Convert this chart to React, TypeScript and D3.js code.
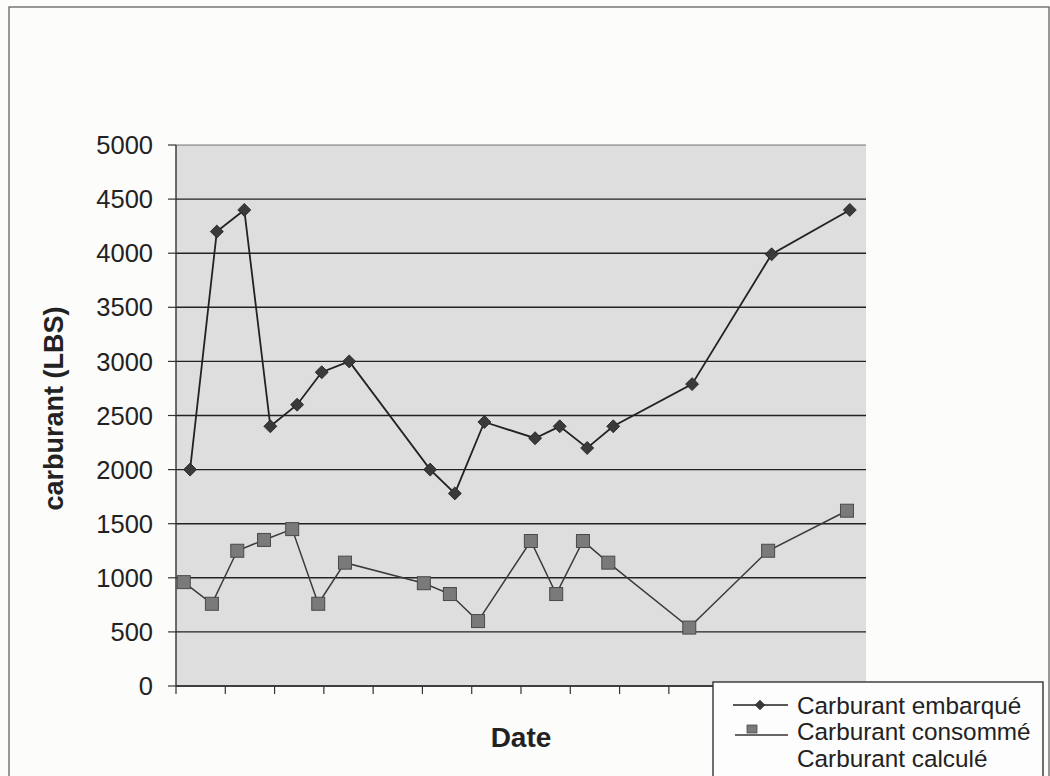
import React from "react";
import * as d3 from "d3";

// x values are days from the start of the axis (one tick every 7 days)
const embarqueDays = [2.0, 5.8, 9.7, 13.4, 17.2, 20.7, 24.6, 36.1, 39.6, 43.8, 51.0, 54.5, 58.4, 62.1, 73.3, 84.6, 95.7];
const embarqueValues = [2000, 4200, 4400, 2400, 2600, 2900, 3000, 2000, 1780, 2440, 2290, 2400, 2200, 2400, 2790, 3990, 4400];
const consommeDays = [1.1, 5.1, 8.7, 12.5, 16.5, 20.2, 24.0, 35.2, 38.9, 42.9, 50.4, 54.0, 57.8, 61.4, 72.9, 84.1, 95.3];
const consommeValues = [960, 760, 1250, 1350, 1450, 760, 1140, 950, 850, 600, 1340, 850, 1340, 1140, 540, 1250, 1620];
const yTicks = [0, 500, 1000, 1500, 2000, 2500, 3000, 3500, 4000, 4500, 5000];
const xTickDays = [0, 7, 14, 21, 28, 35, 42, 49, 56, 63, 70, 77, 84, 91, 98];
const legendLabels = ["Carburant embarqué", "Carburant consommé", "Carburant calculé"];
const yTitle = "carburant (LBS)";
const xTitle = "Date";

const W = 1050;
const H = 776;
const plot = { left: 176, right: 866, top: 145, bottom: 686 };

export default function App() {
  const x = d3.scaleLinear().domain([0, 98]).range([plot.left, plot.right]);
  const y = d3.scaleLinear().domain([0, 5000]).range([plot.bottom, plot.top]);
  const embarque = embarqueDays.map((d, i) => [d, embarqueValues[i]] as [number, number]);
  const consomme = consommeDays.map((d, i) => [d, consommeValues[i]] as [number, number]);
  const line = d3
    .line<[number, number]>()
    .x((d) => x(d[0]))
    .y((d) => y(d[1]));
  const font = "Arial, 'Liberation Sans', sans-serif";
  const diamond = d3.symbol().type(d3.symbolSquare).size(84)() as string;

  return (
    <svg
      width={W}
      height={H}
      style={{ position: "absolute", left: 0, top: 0, background: "#fcfcfa" }}
      fontFamily={font}
    >
      {/* outer chart border */}
      <rect x={9} y={7} width={1040} height={800} fill="#fcfcfa" stroke="#555" strokeWidth={1.2} />

      {/* plot area */}
      <rect
        x={plot.left}
        y={plot.top}
        width={plot.right - plot.left}
        height={plot.bottom - plot.top}
        fill="#dedede"
      />
      {yTicks.map((t) => (
        <line
          key={"g" + t}
          x1={plot.left}
          x2={plot.right}
          y1={y(t)}
          y2={y(t)}
          stroke={t === 0 ? "#333" : "#222"}
          strokeWidth={t === 5000 ? 1 : 1.4}
          opacity={t === 5000 ? 0.6 : 1}
        />
      ))}
      {/* y axis */}
      <line x1={plot.left} x2={plot.left} y1={plot.top} y2={plot.bottom} stroke="#333" strokeWidth={1.4} />
      {yTicks.map((t) => (
        <g key={"yt" + t}>
          <line x1={plot.left - 8} x2={plot.left} y1={y(t)} y2={y(t)} stroke="#333" strokeWidth={1.2} />
          <text
            x={153}
            y={y(t)}
            dy="0.36em"
            textAnchor="end"
            fontSize={25.5}
            fill="#222"
          >
            {t}
          </text>
        </g>
      ))}
      {/* x axis */}
      <line x1={plot.left} x2={plot.right} y1={plot.bottom} y2={plot.bottom} stroke="#333" strokeWidth={1.4} />
      {xTickDays.map((d) => (
        <line key={"xt" + d} x1={x(d)} x2={x(d)} y1={plot.bottom} y2={plot.bottom + 8} stroke="#333" strokeWidth={1.2} />
      ))}

      {/* series */}
      <path d={line(consomme) as string} fill="none" stroke="#3a3a3a" strokeWidth={1.5} />
      <path d={line(embarque) as string} fill="none" stroke="#222" strokeWidth={1.8} />
      {embarque.map((d, i) => (
        <path
          key={"e" + i}
          d={diamond}
          transform={`translate(${x(d[0])},${y(d[1])}) rotate(45)`}
          fill="#3a3a3a"
          stroke="#222"
          strokeWidth={0.8}
        />
      ))}
      {consomme.map((d, i) => (
        <rect
          key={"c" + i}
          x={x(d[0]) - 6.5}
          y={y(d[1]) - 6.5}
          width={13}
          height={13}
          fill="#7a7a7a"
          stroke="#4a4a4a"
          strokeWidth={1}
        />
      ))}

      {/* axis titles */}
      <text
        transform={`translate(63,${(plot.top + plot.bottom) / 2 - 7}) rotate(-90)`}
        textAnchor="middle"
        fontSize={27}
        fontWeight="bold"
        fill="#222"
      >
        {yTitle}
      </text>
      <text x={521} y={747} textAnchor="middle" fontSize={28} fontWeight="bold" fill="#222">
        {xTitle}
      </text>

      {/* legend */}
      <rect x={713} y={682} width={330} height={120} fill="#fdfdfd" stroke="#333" strokeWidth={1.4} />
      <line x1={733} x2={788} y1={705} y2={705} stroke="#222" strokeWidth={1.5} />
      <path d={diamond} transform="translate(760,705) rotate(45) scale(0.75)" fill="#3a3a3a" stroke="#222" strokeWidth={0.8} />
      <line x1={735} x2={788} y1={735} y2={735} stroke="#333" strokeWidth={1.4} />
      <rect x={747} y={725} width={10} height={8} fill="#7a7a7a" stroke="#4a4a4a" strokeWidth={0.8} />
      {legendLabels.map((l, i) => (
        <text key={l} x={797} y={705 + i * 26.5} dy="0.36em" fontSize={24.3} fill="#222">
          {l}
        </text>
      ))}
    </svg>
  );
}
